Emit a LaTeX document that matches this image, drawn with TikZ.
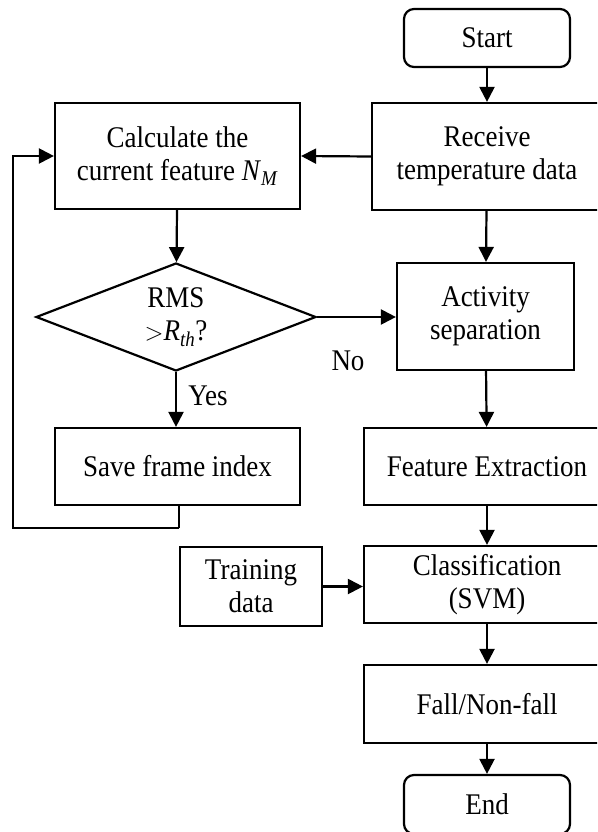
\documentclass[tikz,border=0pt]{standalone}
\usepackage{fontspec}
\setmainfont[FakeStretch=0.9]{Liberation Serif}
\usetikzlibrary{arrows.meta,shapes.geometric}

\tikzset{
  every node/.style={font=\fontsize{30}{33}\selectfont, align=center, inner sep=0pt},
  flowbox/.style={draw, line width=2.2pt, rectangle},
  terminal/.style={flowbox, rounded corners=10pt},
  decision/.style={draw, line width=2.2pt, diamond, aspect=2.6},
  flow/.style={line width=2.2pt, -{Triangle[length=15pt,width=15pt]}},
  plainline/.style={line width=2.2pt},
}

\begin{document}
\begin{tikzpicture}[x=1pt,y=-1pt]
  \path[use as bounding box] (0,0) rectangle (597,832);
  \clip (0,0) rectangle (597,832);

  % right column: main processing chain
  \node[terminal, minimum width=166pt, minimum height=58pt] (start) at (487,38) {Start};
  \node[flowbox, minimum width=230pt, minimum height=107pt] (receive) at (487,156.5) {Receive\\temperature data};
  \node[flowbox, minimum width=177pt, minimum height=107pt] (activity) at (485.5,316.5) {Activity\\separation};
  \node[flowbox, minimum width=246pt, minimum height=77pt] (feature) at (487,466.5) {Feature Extraction};
  \node[flowbox, minimum width=246pt, minimum height=77pt] (classify) at (487,584.5) {Classification\\(SVM)};
  \node[flowbox, minimum width=246pt, minimum height=78pt] (fall) at (487,704) {Fall/Non-fall};
  \node[terminal, minimum width=166pt, minimum height=59pt] (finish) at (487,804.5) {End};

  % left column: frame detection loop
  \node[flowbox, minimum width=245pt, minimum height=106pt] (calc) at (177.5,156) {Calculate the\\current feature \textit{N}\textsubscript{\textit{M}}};
  \node[decision, minimum width=280pt, minimum height=108pt] (rms) at (176,317) {RMS\\${>}$\textit{R}\textsubscript{\textit{th}}?};
  \node[flowbox, minimum width=245pt, minimum height=77pt] (save) at (177.5,466.5) {Save frame index};
  \node[flowbox, minimum width=142pt, minimum height=79pt] (training) at (251,586.5) {Training\\data};

  % labels on the decision branches
  \node (yes) at (208,396) {Yes};
  \node (no) at (348,361) {No};

  % connectors
  \draw[flow] (start) -- (receive);
  \draw[flow] (receive) -- (activity);
  \draw[flow] (activity) -- (feature);
  \draw[flow] (feature) -- (classify);
  \draw[flow] (classify) -- (fall);
  \draw[flow] (fall) -- (finish);
  \draw[flow] (receive.west) -- (calc.east);
  \draw[flow] (calc) -- (rms);
  \draw[flow] (rms.south) -- (save.north -| rms.south);
  \draw[flow] (rms.east) -- (activity.west |- rms.east);
  \draw[flow] (training.east) -- (classify.west |- training.east);

  % feedback from the saved frame back to the feature calculation
  \coordinate (loopA) at (179,528);
  \coordinate (loopB) at (13,528);
  \draw[plainline] ([xshift=1.5pt]save.south) -- (loopA);
  \draw[flow] (loopA) -- (loopB) |- (calc.west);
\end{tikzpicture}
\end{document}
